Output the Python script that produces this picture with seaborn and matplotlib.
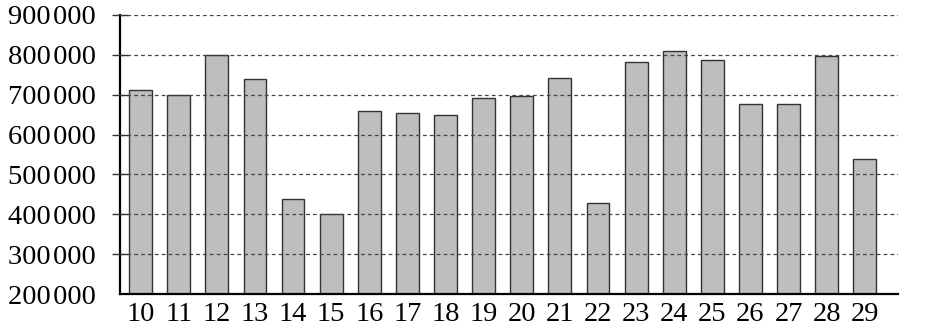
import matplotlib
matplotlib.use("Agg")
import matplotlib.pyplot as plt
import seaborn as sns
import pandas as pd

categories = ["10", "11", "12", "13", "14", "15", "16", "17", "18", "19",
              "20", "21", "22", "23", "24", "25", "26", "27", "28", "29"]
values = [711000, 700000, 800000, 739000, 438000, 400000, 659000, 653000, 649000, 692000,
          697000, 743000, 428000, 783000, 810000, 787000, 676000, 676000, 796000, 538000]
y_ticks = [200000, 300000, 400000, 500000, 600000, 700000, 800000, 900000]
y_tick_labels = ["200\u200a000", "300\u200a000", "400\u200a000",
                 "500\u200a000", "600\u200a000", "700\u200a000",
                 "800\u200a000", "900\u200a000"]

sns.set_style("white")
plt.rcParams["font.family"] = ["Liberation Serif", "DejaVu Serif"]

df = pd.DataFrame({"cat": categories, "val": values})

fig = plt.figure(figsize=(9.32, 3.32), dpi=100)
ax = fig.add_axes([120 / 932, 1 - 294 / 332, (898 - 120) / 932, (294 - 15) / 332])

sns.barplot(data=df, x="cat", y="val", order=categories, color="#bdbec0",
            saturation=1, width=0.6, edgecolor="#333333", linewidth=1.0, ax=ax)

ax.set_ylim(200000, 900000)
ax.set_xlim(-0.54, 19.87)
ax.set_yticks(y_ticks)
ax.set_yticklabels(y_tick_labels)
ax.set_xlabel("")
ax.set_ylabel("")

ax.set_axisbelow(False)
ax.yaxis.grid(True, linestyle=(0, (3, 2.5)), color="#444444", linewidth=0.9)
ax.xaxis.grid(False)

for s in ["top", "right"]:
    ax.spines[s].set_visible(False)
for s in ["left", "bottom"]:
    ax.spines[s].set_visible(True)
    ax.spines[s].set_color("black")
    ax.spines[s].set_linewidth(1.6)

ax.tick_params(axis="y", left=True, direction="inout", length=11, width=1.0, color="#333333",
               pad=12, labelsize=20.5, labelcolor="black")
ax.tick_params(axis="x", bottom=False, length=0, pad=6, labelsize=20.5, colors="black")
ax.yaxis.get_major_ticks()[0].tick1line.set_visible(False)

fig.savefig("out.png", dpi=100)
